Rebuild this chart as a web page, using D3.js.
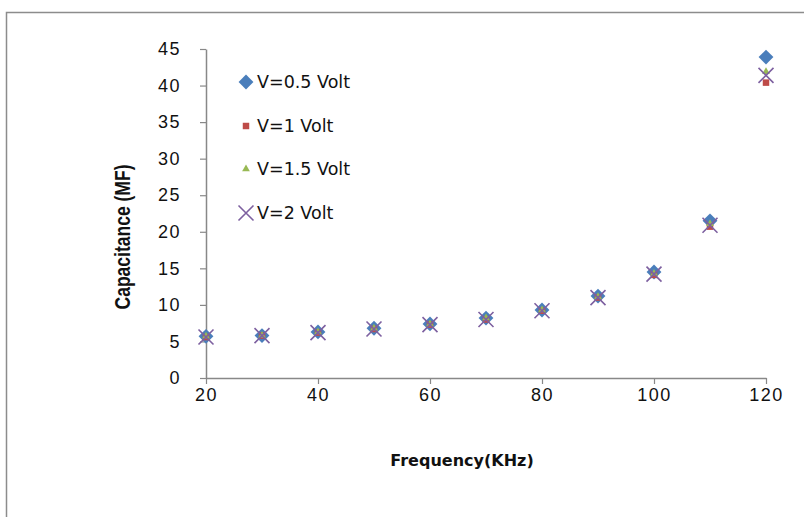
<!DOCTYPE html>
<html>
<head>
<meta charset="utf-8">
<script src="https://cdn.jsdelivr.net/npm/d3@7"></script>
<style>
  body { margin: 0; background: #fff; }
  svg { display: block; }
</style>
</head>
<body>
<svg id="chart" width="804" height="517"></svg>
<script>
const freq = [20, 30, 40, 50, 60, 70, 80, 90, 100, 110, 120];
const v05 = [5.7, 5.8, 6.3, 6.8, 7.4, 8.2, 9.3, 11.2, 14.5, 21.5, 43.9];
const v1 = [5.6, 5.8, 6.2, 6.7, 7.3, 8.0, 9.2, 11.0, 14.1, 20.7, 40.4];
const v15 = [5.7, 5.8, 6.3, 6.8, 7.4, 8.2, 9.3, 11.1, 14.3, 21.1, 41.9];
const v2 = [5.6, 5.8, 6.2, 6.7, 7.3, 8.0, 9.2, 11.0, 14.2, 20.9, 41.4];
const seriesNames = ['V=0.5 Volt', 'V=1 Volt', 'V=1.5 Volt', 'V=2 Volt'];
const xTicks = [20, 40, 60, 80, 100, 120];
const yTicks = [0, 5, 10, 15, 20, 25, 30, 35, 40, 45];

const svg = d3.select('#chart');

// outer frame (only top and left visible)
svg.append('path')
  .attr('d', 'M6.5,517 V12.5 H804')
  .attr('fill', 'none')
  .attr('stroke', '#8c8c8c')
  .attr('stroke-width', 1.5);

const x = d3.scaleLinear().domain([20, 120]).range([206, 766]);
const y = d3.scaleLinear().domain([0, 45]).range([378, 49]);

const xAxis = svg.append('g')
  .attr('transform', `translate(0,${y(0)})`)
  .call(d3.axisBottom(x).tickValues(xTicks).tickSize(6).tickPadding(4).tickSizeOuter(0));
const yAxis = svg.append('g')
  .attr('transform', `translate(${x(20)},0)`)
  .call(d3.axisLeft(y).tickValues(yTicks).tickSize(6).tickPadding(19).tickSizeOuter(0));

[xAxis, yAxis].forEach(a => {
  a.select('.domain').attr('stroke', '#888').attr('stroke-width', 1.5);
  a.selectAll('.tick line').attr('stroke', '#888').attr('stroke-width', 1.2);
  a.selectAll('.tick text')
    .attr('fill', '#111')
    .style('font-family', 'Liberation Sans, Arial, sans-serif')
    .style('font-size', '18px')
    .style('letter-spacing', '1.5px');
});

// axis titles
svg.append('text')
  .attr('x', 462).attr('y', 466)
  .attr('text-anchor', 'middle')
  .style('font-family', 'DejaVu Sans, Verdana, sans-serif')
  .style('font-weight', 'bold')
  .style('font-size', '16px')
  .attr('fill', '#111')
  .text('Frequency(KHz)');

svg.append('text')
  .attr('transform', 'translate(130,237) rotate(-90)')
  .attr('text-anchor', 'middle')
  .attr('textLength', 145)
  .attr('lengthAdjust', 'spacingAndGlyphs')
  .style('font-family', 'Liberation Sans, Arial, sans-serif')
  .style('font-weight', 'bold')
  .style('font-size', '22px')
  .attr('fill', '#111')
  .text('Capacitance (MF)');

// marker drawers
const symDiamond = d3.symbol().type(d3.symbolSquare).size(110)();
const symSquare = d3.symbol().type(d3.symbolSquare).size(42)();
const symTriangle = d3.symbol().type(d3.symbolTriangle).size(26)();

function drawMarker(g, kind, cx, cy) {
  if (kind === 0) {
    g.append('path').attr('d', symDiamond)
      .attr('transform', `translate(${cx},${cy}) rotate(45)`)
      .attr('fill', '#4a7ebb');
  } else if (kind === 1) {
    g.append('path').attr('d', symSquare)
      .attr('transform', `translate(${cx},${cy})`)
      .attr('fill', '#be4b48');
  } else if (kind === 2) {
    g.append('path').attr('d', symTriangle)
      .attr('transform', `translate(${cx},${cy})`)
      .attr('fill', '#98b954');
  } else {
    const s = 7.5;
    g.append('path')
      .attr('d', `M${cx - s},${cy - s}L${cx + s},${cy + s}M${cx - s},${cy + s}L${cx + s},${cy - s}`)
      .attr('stroke', '#7d60a0')
      .attr('stroke-width', 1.6)
      .attr('fill', 'none');
  }
}

const allSeries = [v05, v1, v15, v2];
const plot = svg.append('g');
allSeries.forEach((vals, k) => {
  const g = plot.append('g');
  vals.forEach((v, i) => drawMarker(g, k, x(freq[i]), y(v)));
});

// legend
const legY = [82, 126, 169, 213];
const legend = svg.append('g');
seriesNames.forEach((name, k) => {
  drawMarker(legend, k, 246, legY[k]);
  legend.append('text')
    .attr('x', 257).attr('y', legY[k] + 6)
    .style('font-family', 'DejaVu Sans, Verdana, sans-serif')
    .style('font-size', '17.5px')
    .attr('fill', '#111')
    .text(name);
});
</script>
</body>
</html>
